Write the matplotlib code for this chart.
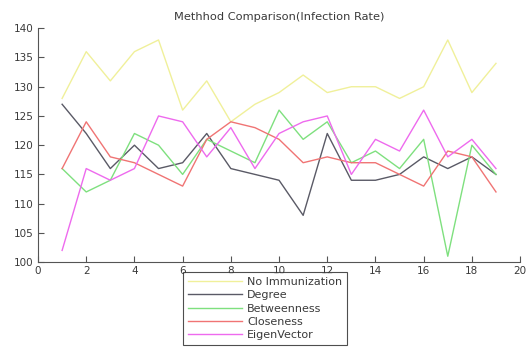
import numpy as np
import matplotlib
matplotlib.use('Agg')
import matplotlib.pyplot as plt

# Infection rate per run for each immunization strategy
runs = np.arange(1, 20)
no_immunization = [128, 136, 131, 136, 138, 126, 131, 124, 127, 129, 132, 129, 130, 130, 128, 130, 138, 129, 134]
degree = [127, 122, 116, 120, 116, 117, 122, 116, 115, 114, 108, 122, 114, 114, 115, 118, 116, 118, 115]
betweenness = [116, 112, 114, 122, 120, 115, 121, 119, 117, 126, 121, 124, 117, 119, 116, 121, 101, 120, 115]
closeness = [116, 124, 118, 117, 115, 113, 121, 124, 123, 121, 117, 118, 117, 117, 115, 113, 119, 118, 112]
eigenvector = [102, 116, 114, 116, 125, 124, 118, 123, 116, 122, 124, 125, 115, 121, 119, 126, 118, 121, 116]

series_names = ['No Immunization', 'Degree', 'Betweenness', 'Closeness', 'EigenVector']
x_ticks = [0, 2, 4, 6, 8, 10, 12, 14, 16, 18, 20]
y_ticks = [100, 105, 110, 115, 120, 125, 130, 135, 140]


def main():
    plt.rcParams['font.family'] = 'DejaVu Sans'
    plt.rcParams['font.size'] = 7.5
    text_col = '#3a3a3a'
    axis_col = '#555555'

    fig = plt.figure(figsize=(5.28, 3.49), dpi=100)
    ax = fig.add_axes([0.072, 0.249, 0.913, 0.670])

    ###########################################################################
    # 1. Lines
    ###########################################################################
    colours = ['#f0f09a', '#5a5a66', '#7ee07e', '#f07474', '#ee6aee']
    all_series = [no_immunization, degree, betweenness, closeness, eigenvector]
    for vals, name, col in zip(all_series, series_names, colours):
        ax.plot(runs, vals, color=col, linewidth=1.0, label=name)

    ###########################################################################
    # 2. Axes styling (matlab-ish, box off, ticks inward)
    ###########################################################################
    ax.set_xlim(0, 20)
    ax.set_ylim(100, 140)
    ax.set_xticks(x_ticks)
    ax.set_yticks(y_ticks)
    ax.spines['top'].set_visible(False)
    ax.spines['right'].set_visible(False)
    for s in ['left', 'bottom']:
        ax.spines[s].set_color(axis_col)
        ax.spines[s].set_linewidth(0.8)
    ax.tick_params(direction='in', length=4, width=0.8, colors=axis_col,
                   labelcolor=text_col, pad=3)
    ax.set_title('Methhod Comparison(Infection Rate)', color=text_col,
                 fontsize=8.2, pad=6)

    ###########################################################################
    # 3. Legend under the axes
    ###########################################################################
    leg = fig.legend(loc='upper left', bbox_to_anchor=(0.347, 0.221),
                     borderaxespad=0, fontsize=8, frameon=True, fancybox=False,
                     handlelength=4.8, handletextpad=0.5, labelspacing=0.3,
                     borderpad=0.45)
    leg.get_frame().set_edgecolor('#222222')
    leg.get_frame().set_linewidth(0.8)
    for t in leg.get_texts():
        t.set_color(text_col)

    plt.savefig('out.png', dpi=100)


if __name__ == "__main__":
    main()
